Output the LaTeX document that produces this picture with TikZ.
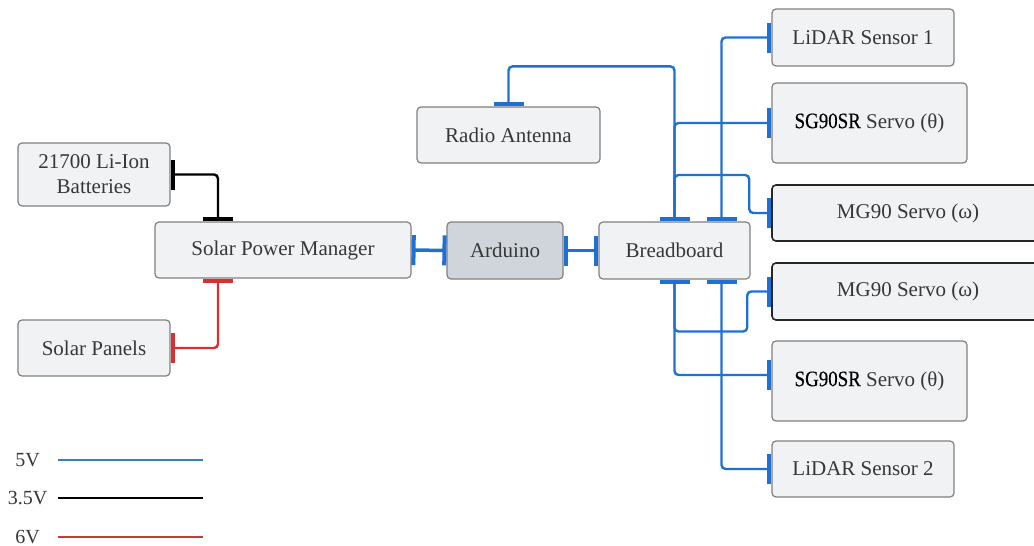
\documentclass[tikz,border=0pt]{standalone}
\usepackage{fontspec}
\setmainfont{Liberation Serif}
\newfontfamily\partfont{Liberation Serif}
\newfontfamily\sgfont[FakeStretch=0.86, FakeBold=0.4]{Liberation Serif}
\usetikzlibrary{arrows.meta}

\definecolor{wireblue}{RGB}{30,112,212}
\definecolor{wirered}{RGB}{214,48,48}
\definecolor{legblue}{RGB}{52,128,186}
\definecolor{legred}{RGB}{196,60,56}
\definecolor{boxfill}{RGB}{241,242,244}
\definecolor{ardfill}{RGB}{208,213,220}
\definecolor{boxline}{RGB}{128,128,128}
\definecolor{textgray}{RGB}{55,55,55}

\newcommand{\sgname}{{\sgfont\fontsize{22}{25}\selectfont\color{black}SG90SR}}

\tikzset{
  part/.style={draw=boxline, fill=boxfill, rounded corners=4pt, line width=1.2pt,
    text=textgray, font=\partfont\fontsize{21}{25}\selectfont, inner sep=0pt, align=center},
  darkpart/.style={part, draw=black!85, line width=1.6pt},
  wire/.style={line width=2.4pt, rounded corners=4pt,
    {Bar[width=30pt,line width=4pt]}-{Bar[width=30pt,line width=4pt]}},
  wire5/.style={wire, wireblue},
  wire35/.style={wire, black},
  wire6/.style={wire, wirered},
  legend/.style={text=textgray, font=\partfont\fontsize{20}{24}\selectfont, inner sep=0pt}
}

\begin{document}
\begin{tikzpicture}[x=1pt, y=-1pt]
\useasboundingbox (0,0) rectangle (1034,546);
\clip (0,0) rectangle (1034,546);

% Power side
\node[part, minimum width=152pt, minimum height=63pt] (bat) at (94,174.5) {21700 Li-Ion\\Batteries};
\node[part, minimum width=256pt, minimum height=56pt] (spm) at (283,250) {Solar Power Manager};
\node[part, minimum width=152pt, minimum height=56pt] (pan) at (94,348) {Solar Panels};

% Controller
\node[part, minimum width=183pt, minimum height=56pt] (ant) at (508.5,135) {Radio Antenna};
\node[part, fill=ardfill, minimum width=116pt, minimum height=57pt] (ard) at (505,250.5) {Arduino};
\node[part, minimum width=151pt, minimum height=57pt] (brd) at (674.5,250.5) {Breadboard};

% Sensors and servos
\node[part, minimum width=182pt, minimum height=57pt] (lid1) at (863,37.5) {LiDAR Sensor 1};
\node[part, minimum width=195pt, minimum height=80pt] (sgt) at (869.5,123) {\sgname\ Servo (θ)};
\node[darkpart, minimum width=272pt, minimum height=56pt] (mgt) at (908,213) {MG90 Servo (ω)};
\node[darkpart, minimum width=272pt, minimum height=57pt] (mgb) at (908,291.5) {MG90 Servo (ω)};
\node[part, minimum width=195pt, minimum height=80pt] (sgb) at (869.5,381) {\sgname\ Servo (θ)};
\node[part, minimum width=182pt, minimum height=56pt] (lid2) at (863,469) {LiDAR Sensor 2};

% Power wires
\draw[wire35] (bat.east) -| ([xshift=-65pt]spm.north);
\draw[wire6] ([xshift=-65pt]spm.south) |- (pan.east);
\draw[wire5, line width=3.5pt] (spm.east) -- (ard.west);
\draw[wire5, line width=3.5pt] (ard.east) -- (brd.west);

% Breadboard, upper side
\draw[wire5] (ant.north) -- ++(0,-40) -| (brd.north);
\draw[wire5] (brd.north) |- (sgt.west);
\draw[wire5] (brd.north) |- ([xshift=-22pt, yshift=38pt]mgt.west) |- (mgt.west);
\draw[wire5] ([xshift=47pt]brd.north) |- (lid1.west);

% Breadboard, lower side
\draw[wire5] (brd.south) |- ([yshift=6pt]sgb.west);
\draw[wire5] (brd.south) |- ([xshift=-24pt, yshift=-40pt]mgb.west) |- (mgb.west);
\draw[wire5] ([xshift=47pt]brd.south) |- (lid2.west);

% Legend
\node[legend] (l5) at (27.5,460) {5V};
\node[legend] (l35) at (27.5,498) {3.5V};
\node[legend] (l6) at (27.5,537) {6V};
\coordinate (l5a) at (58,460);  \coordinate (l5b) at (203,460);
\coordinate (l35a) at (58,498); \coordinate (l35b) at (203,498);
\coordinate (l6a) at (58,537);  \coordinate (l6b) at (203,537);
\draw[legblue, line width=1.6pt] (l5a) -- (l5b);
\draw[black, line width=1.6pt] (l35a) -- (l35b);
\draw[legred, line width=1.6pt] (l6a) -- (l6b);
\end{tikzpicture}
\end{document}
